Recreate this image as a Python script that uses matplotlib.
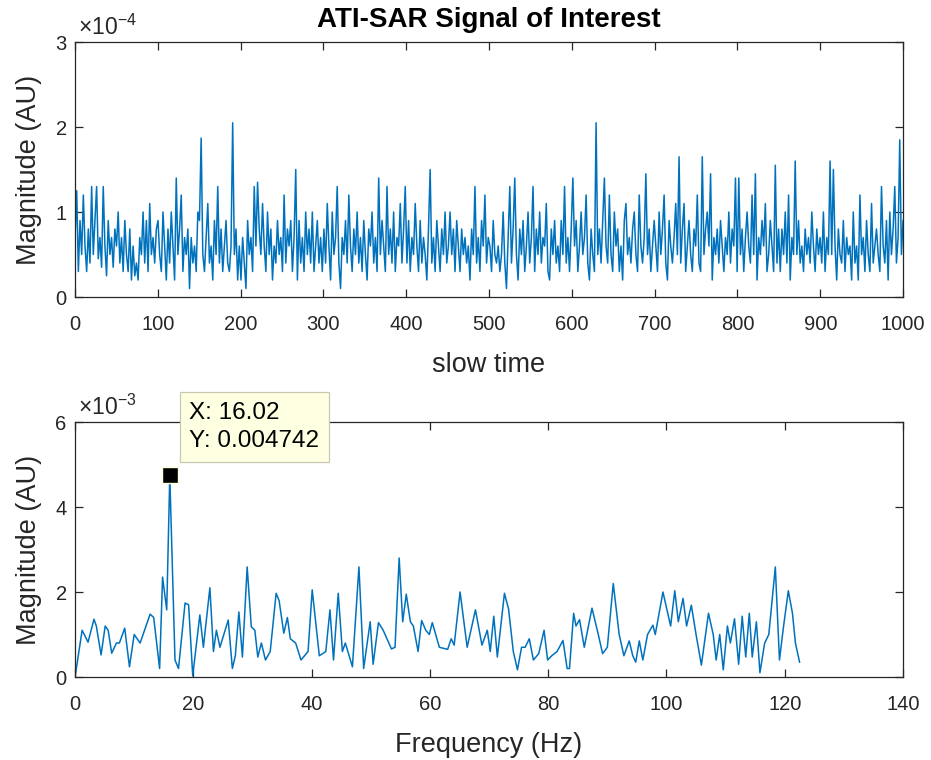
import numpy as np
import matplotlib.pyplot as plt

plt.rcParams['font.family'] = ['Liberation Sans', 'DejaVu Sans']
plt.rcParams['mathtext.fontset'] = 'custom'
plt.rcParams['mathtext.rm'] = 'Liberation Sans'
plt.rcParams['mathtext.it'] = 'Liberation Sans'

# slow-time magnitude, every ~2 samples (units of 1e-4)
slow_mag = [
    0.7, 1.25, 0.3, 0.9, 0.5, 1.2, 0.6, 0.3, 0.8, 0.4, 1.3, 0.5, 0.9, 1.3, 0.45, 0.7, 0.35, 1.3, 0.6, 0.25, 0.9, 0.5, 0.7, 0.35, 0.8,
    0.6, 1.0, 0.4, 0.7, 0.3, 0.9, 0.5, 0.3, 0.8, 0.2, 0.6, 0.25, 0.4, 0.2, 0.7, 0.5, 1.0, 0.4, 0.9, 0.3, 1.1, 0.5, 0.7, 0.4, 0.8,
    0.9, 0.5, 0.3, 1.0, 0.6, 0.2, 0.8, 0.4, 1.0, 0.6, 0.2, 1.4, 0.5, 0.8, 1.2, 0.3, 0.7, 0.5, 0.8, 0.1, 0.7, 0.4, 0.6, 0.3, 1.0,
    0.9, 1.87, 0.5, 0.3, 0.7, 1.1, 0.4, 0.6, 0.2, 0.9, 0.5, 1.3, 0.4, 0.8, 0.3, 0.6, 0.9, 0.4, 0.3, 0.6, 2.05, 0.5, 0.8, 0.2, 0.6,
    0.2, 0.7, 0.4, 0.1, 0.9, 0.5, 0.7, 0.3, 1.3, 0.6, 1.35, 0.8, 0.5, 1.1, 0.6, 0.3, 1.0, 0.5, 0.8, 0.2, 0.6, 0.4, 0.9, 0.5, 0.7,
    0.3, 1.2, 0.4, 0.8, 0.6, 0.9, 0.3, 0.7, 1.5, 0.2, 0.9, 0.4, 0.7, 0.3, 1.0, 0.5, 0.8, 0.4, 1.0, 0.3, 0.6, 0.9, 0.4, 0.7, 0.3,
    0.8, 0.4, 1.1, 0.6, 0.2, 1.0, 0.5, 0.7, 1.3, 0.4, 0.1, 0.7, 0.5, 0.9, 0.4, 1.2, 0.6, 0.3, 0.8, 0.5, 1.0, 0.4, 0.7, 0.3, 0.9,
    0.5, 0.2, 0.8, 0.6, 1.0, 0.4, 0.7, 0.3, 1.4, 0.5, 0.9, 0.6, 0.3, 1.3, 0.5, 0.8, 0.4, 1.0, 0.3, 0.7, 0.6, 1.1, 0.4, 0.8, 1.3,
    0.4, 0.9, 0.3, 0.7, 0.5, 1.1, 0.6, 0.3, 0.9, 0.4, 0.7, 0.5, 0.2, 0.8, 1.5, 0.4, 0.7, 0.3, 0.9, 0.6, 0.3, 0.8, 0.5, 1.0, 0.4,
    0.6, 1.0, 0.5, 0.8, 0.3, 0.9, 0.6, 0.3, 0.8, 0.5, 0.7, 0.4, 0.6, 0.2, 0.8, 0.5, 1.3, 0.4, 0.7, 0.3, 0.9, 0.6, 1.2, 0.4, 0.7,
    0.6, 0.3, 0.9, 0.5, 0.4, 0.6, 0.3, 0.5, 1.0, 0.4, 0.1, 0.7, 1.3, 0.4, 0.8, 1.4, 0.5, 0.2, 0.8, 0.5, 0.9, 0.3, 0.6, 1.0, 0.4,
    0.7, 1.3, 0.3, 0.8, 0.5, 1.0, 0.4, 0.7, 0.6, 1.1, 0.3, 0.2, 0.8, 0.5, 0.9, 0.4, 0.6, 0.3, 0.9, 0.5, 1.3, 0.4, 0.7, 0.3, 0.8,
    1.4, 0.6, 0.9, 0.3, 0.6, 1.0, 0.5, 0.7, 1.2, 0.4, 0.2, 0.8, 0.5, 0.3, 2.05, 0.5, 0.8, 0.4, 0.9, 1.4, 0.6, 0.4, 1.2, 0.5, 0.3,
    1.0, 0.6, 0.8, 0.3, 0.6, 0.2, 0.9, 1.1, 0.5, 0.7, 0.4, 0.8, 1.0, 0.5, 0.3, 1.2, 0.6, 0.4, 0.7, 1.45, 0.5, 0.8, 0.3, 0.6, 0.9,
    0.6, 0.3, 1.0, 0.5, 0.8, 1.2, 0.4, 0.2, 0.9, 0.6, 0.4, 0.7, 1.1, 0.5, 1.65, 0.4, 0.8, 1.1, 0.3, 0.6, 0.9, 0.5, 0.3, 0.8, 0.6,
    1.2, 0.4, 0.3, 1.65, 0.5, 0.8, 1.0, 0.6, 1.45, 0.2, 0.7, 0.5, 0.8, 0.4, 0.9, 0.6, 0.3, 0.7, 0.5, 1.0, 0.4, 0.8, 0.6, 1.4, 0.3,
    1.4, 0.5, 0.8, 0.3, 0.7, 1.0, 0.6, 0.4, 1.2, 0.5, 1.45, 0.2, 0.7, 0.5, 0.9, 0.6, 1.1, 0.3, 0.5, 0.9, 0.6, 0.3, 1.55, 0.4, 0.8,
    0.3, 0.8, 0.5, 1.0, 0.4, 1.2, 0.2, 0.7, 0.5, 1.6, 0.5, 0.9, 0.4, 0.6, 0.3, 0.8, 0.5, 0.7, 0.4, 1.0, 0.6, 0.3, 0.8, 0.5, 0.7,
    0.4, 1.0, 0.3, 0.7, 0.5, 1.6, 0.5, 1.5, 0.6, 0.2, 0.8, 0.5, 0.4, 0.9, 0.3, 0.7, 0.5, 0.6, 0.2, 1.0, 0.4, 0.6, 0.2, 1.2, 0.5,
    0.7, 0.3, 0.9, 0.5, 0.3, 1.1, 0.4, 0.6, 0.8, 0.5, 0.3, 1.3, 0.6, 0.4, 0.9, 0.2, 1.0, 0.5, 0.8, 1.3, 0.4, 0.7, 1.85, 0.5, 0.9,
]

# spectrum (Hz, units of 1e-3)
freq = [0, 1.2, 2.2, 3.2, 3.6, 4.4, 5.1, 5.6, 6.2, 7.0, 7.5, 8.4, 9.2, 10.0, 11.0, 12.7, 13.3, 14.3, 14.8, 15.5,
        16.02, 16.9, 17.5, 18.6, 19.2, 19.9, 21.1, 21.7, 22.8, 23.4, 23.9, 24.5, 25.9, 26.6, 27.1, 27.7, 28.3, 29.1,
        29.8, 30.4, 30.9, 31.5, 32.2, 33.0, 34.0, 34.5, 35.3, 35.9, 36.4, 37.3, 38.2, 39.4, 40.1, 41.3, 42.4, 43.1,
        43.7, 44.5, 45.2, 45.7, 46.9, 48.0, 48.8, 49.9, 50.4, 51.3, 52.1, 53.5, 54.1, 54.8, 55.4, 56.0, 56.7, 57.2,
        58.0, 58.6, 59.3, 59.9, 60.4, 61.6, 63.0, 63.6, 64.1, 65.1, 66.3, 67.7, 68.8, 69.7, 70.2, 70.8, 71.4, 72.6,
        73.3, 74.1, 74.8, 75.5, 76.1, 76.8, 77.5, 78.4, 79.3, 79.9, 80.6, 81.5, 82.5, 83.2, 83.6, 84.3, 84.7, 85.3,
        86.1, 87.4, 88.3, 89.2, 90.0, 91.0, 92.0, 92.8, 93.7, 94.3, 94.8, 95.4, 96.0, 96.8, 97.7, 98.1, 99.4, 100.7,
        101.4, 102.0, 102.8, 103.4, 104.2, 105.0, 105.9, 107.1, 107.9, 108.4, 109.0, 109.6, 110.3, 110.8, 111.5,
        112.2, 112.8, 113.4, 114.0, 114.5, 115.2, 115.8, 116.6, 117.3, 118.4, 119.1, 119.8, 120.6, 121.3, 121.8, 122.5]
spec_mag = [0.0, 1.1, 0.82, 1.36, 1.2, 0.52, 1.2, 1.1, 0.56, 0.8, 0.8, 1.15, 0.24, 1.0, 0.8, 1.48, 1.4, 0.2, 2.35, 1.58,
            4.742, 0.4, 0.2, 1.74, 1.7, 0.03, 1.46, 0.7, 2.1, 0.6, 1.1, 0.7, 1.34, 0.2, 0.5, 1.53, 0.47, 2.59,
            1.18, 1.1, 0.47, 0.8, 0.4, 0.6, 1.97, 1.8, 1.03, 1.4, 0.9, 0.8, 0.4, 0.6, 2.05, 0.5, 0.6, 1.58,
            0.4, 1.97, 0.6, 0.8, 0.24, 2.59, 0.2, 1.3, 0.3, 1.28, 1.1, 0.66, 0.7, 2.8, 1.3, 1.95, 1.3, 1.2,
            0.6, 1.33, 1.1, 1.0, 1.28, 0.7, 0.65, 0.9, 0.75, 2.0, 0.7, 1.58, 0.75, 1.1, 0.6, 1.43, 0.47, 1.97,
            1.6, 0.6, 0.17, 0.7, 0.7, 0.9, 0.4, 0.55, 1.1, 0.4, 0.5, 0.6, 0.86, 0.2, 0.2, 1.5, 1.2, 1.35,
            0.7, 1.62, 1.1, 0.55, 0.7, 2.2, 1.0, 0.5, 0.85, 0.5, 0.35, 0.85, 0.4, 1.0, 1.22, 1.0, 2.0, 1.2,
            2.03, 1.3, 1.85, 1.2, 1.69, 1.0, 0.28, 1.5, 1.0, 0.4, 1.0, 0.17, 1.2, 0.8, 1.37,
            0.3, 1.43, 0.47, 1.5, 0.47, 1.3, 0.1, 0.8, 1.0, 2.59, 0.4, 1.2, 2.03, 1.5, 0.8, 0.35]

peak_x = 16.02
peak_y = 0.004742

line_c = '#0072BD'
ax_c = '#262626'

fig = plt.figure(figsize=(9.31, 7.6), dpi=100)
ax1 = fig.add_axes([0.0806, 0.6092, 0.8894, 0.3355])
ax2 = fig.add_axes([0.0806, 0.1092, 0.8894, 0.3355])


def style(ax):
    for s in ax.spines.values():
        s.set_color(ax_c)
        s.set_linewidth(0.9)
    ax.tick_params(direction='in', top=True, right=True, length=6, width=0.9,
                   colors=ax_c, labelsize=14.5)
    ax.tick_params(axis='x', pad=13)
    ax.tick_params(axis='y', pad=6)


# top: slow time
t = np.linspace(0, 1000, len(slow_mag))
ax1.plot(t, np.array(slow_mag) * 1e-4, color=line_c, lw=1.1)
ax1.set_xlim(0, 1000)
ax1.set_ylim(0, 3e-4)
ax1.set_xticks(np.arange(0, 1001, 100))
ax1.set_yticks([0, 1e-4, 2e-4, 3e-4])
ax1.set_yticklabels(['0', '1', '2', '3'])
ax1.set_xlabel('slow time', fontsize=19.5, color=ax_c, labelpad=13)
ax1.set_ylabel('Magnitude (AU)', fontsize=19.5, color=ax_c, labelpad=10)
ax1.set_title('ATI-SAR Signal of Interest', fontsize=20, fontweight='bold', color='black', pad=11)
ax1.text(0.003, 1.01, r'$\times10^{-4}$', transform=ax1.transAxes, fontsize=16.5,
         color=ax_c, ha='left', va='bottom')
style(ax1)

# bottom: spectrum
ax2.plot(freq, np.array(spec_mag) * 1e-3, color=line_c, lw=1.1)
ax2.set_xlim(0, 140)
ax2.set_ylim(0, 6e-3)
ax2.set_xticks(np.arange(0, 141, 20))
ax2.set_yticks([0, 2e-3, 4e-3, 6e-3])
ax2.set_yticklabels(['0', '2', '4', '6'])
ax2.set_xlabel('Frequency (Hz)', fontsize=19.5, color=ax_c, labelpad=13)
ax2.set_ylabel('Magnitude (AU)', fontsize=19.5, color=ax_c, labelpad=10)
ax2.text(0.003, 1.01, r'$\times10^{-3}$', transform=ax2.transAxes, fontsize=16.5,
         color=ax_c, ha='left', va='bottom')
style(ax2)

# data tip
ax2.plot([peak_x], [peak_y], marker='s', ms=11, color='black', mec='#ffffe0', mew=1.0,
         zorder=5, clip_on=False)
ax2.annotate('X: 16.02\nY: 0.004742', xy=(peak_x, peak_y), xytext=(14, 17),
             textcoords='offset points', fontsize=17.5, color='black', ha='left', va='bottom',
             linespacing=1.35, annotation_clip=False,
             bbox=dict(boxstyle='square,pad=0.4', fc='#ffffe1', ec='#c8c8b4', lw=0.9))

fig.savefig('out.png', dpi=100, facecolor='white')
